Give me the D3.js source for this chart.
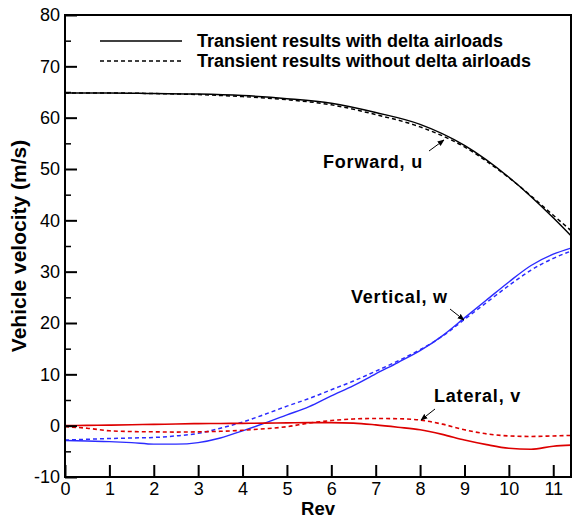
<!DOCTYPE html>
<html>
<head>
<meta charset="utf-8">
<script src="https://cdn.jsdelivr.net/npm/d3@7"></script>
<style>
  html, body { margin: 0; padding: 0; background: #fff; }
  svg { display: block; font-family: Arial, "Liberation Sans", sans-serif; }
</style>
</head>
<body>
<svg id="chart" width="573" height="518"></svg>
<script>
// Rev positions (x) shared by each sampled series
const forwardRev = [0, 1, 2, 3, 4, 5, 6, 7, 8, 9, 10, 11, 11.4];
const forwardWith = [64.8, 64.8, 64.7, 64.6, 64.3, 63.7, 62.8, 61.0, 58.7, 54.6, 48.4, 40.5, 37.0];
const forwardWithout = [64.8, 64.8, 64.7, 64.5, 64.1, 63.5, 62.5, 60.6, 58.2, 54.3, 48.3, 41.0, 38.0];

const verticalRev = [0, 0.5, 1, 1.5, 2, 2.5, 3, 3.5, 4, 4.5, 5, 5.5, 6, 6.5, 7, 7.5, 8, 8.5, 9, 9.5, 10, 10.5, 11, 11.4];
const verticalWith = [-2.9, -3.0, -3.1, -3.3, -3.6, -3.6, -3.3, -2.4, -1.0, 0.5, 2.1, 3.7, 5.8, 7.8, 10.1, 12.3, 14.6, 17.5, 21.0, 24.5, 28.0, 31.2, 33.4, 34.6];
const verticalWithout = [-2.8, -2.65, -2.5, -2.4, -2.3, -2.0, -1.5, -0.5, 0.7, 2.2, 3.8, 5.3, 7.0, 8.7, 10.6, 12.6, 14.8, 17.4, 20.7, 24.0, 27.3, 30.3, 32.6, 34.0];

const lateralRev = [0, 0.5, 1, 1.5, 2, 2.5, 3, 3.5, 4, 4.5, 5, 5.5, 6, 6.5, 7, 7.5, 8, 8.5, 9, 9.5, 10, 10.5, 11, 11.4];
const lateralWith = [0.0, 0.05, 0.1, 0.18, 0.25, 0.33, 0.4, 0.43, 0.45, 0.5, 0.55, 0.6, 0.6, 0.5, 0.15, -0.3, -0.8, -1.7, -2.8, -3.7, -4.4, -4.6, -4.0, -3.8];
const lateralWithout = [-0.2, -0.5, -1.0, -1.15, -1.2, -1.25, -1.2, -1.1, -0.9, -0.6, -0.2, 0.5, 1.0, 1.3, 1.4, 1.35, 1.1, 0.3, -0.8, -1.6, -2.0, -2.1, -2.0, -1.9];

const xTicks = [0, 1, 2, 3, 4, 5, 6, 7, 8, 9, 10, 11];
const yTicks = [-10, 0, 10, 20, 30, 40, 50, 60, 70, 80];
const yMinorTicks = [-5, 5, 15, 25, 35, 45, 55, 65, 75];

const legendLabels = ["Transient results with delta airloads", "Transient results without delta airloads"];

const svg = d3.select("#chart");
const plotLeft = 65, plotRight = 571, plotTop = 15, plotBottom = 477;
const fontFamily = "Arial, 'Liberation Sans', sans-serif";

const x = d3.scaleLinear().domain([0, 11.4]).range([plotLeft, plotRight]);
const y = d3.scaleLinear().domain([-10, 80]).range([plotBottom, plotTop]);

const zip = (xs, ys) => xs.map((v, i) => [v, ys[i]]);
const line = d3.line().x(d => x(d[0])).y(d => y(d[1])).curve(d3.curveMonotoneX);

svg.append("clipPath").attr("id", "plot-clip")
  .append("rect").attr("x", plotLeft).attr("y", plotTop)
  .attr("width", plotRight - plotLeft).attr("height", plotBottom - plotTop);

const series = [
  { rev: forwardRev, vals: forwardWith, color: "#000000", dash: null, w: 1.5 },
  { rev: forwardRev, vals: forwardWithout, color: "#000000", dash: "4,3", w: 1.5 },
  { rev: verticalRev, vals: verticalWith, color: "#2b2bff", dash: null, w: 1.4 },
  { rev: verticalRev, vals: verticalWithout, color: "#2b2bff", dash: "4,3", w: 1.5 },
  { rev: lateralRev, vals: lateralWith, color: "#dd0000", dash: null, w: 1.6 },
  { rev: lateralRev, vals: lateralWithout, color: "#dd0000", dash: "4,3", w: 1.6 }
];

const g = svg.append("g").attr("clip-path", "url(#plot-clip)");
series.forEach(s => {
  g.append("path")
    .attr("d", line(zip(s.rev, s.vals)))
    .attr("fill", "none")
    .attr("stroke", s.color)
    .attr("stroke-width", s.w)
    .attr("stroke-dasharray", s.dash);
});

// Frame
svg.append("rect")
  .attr("x", plotLeft).attr("y", plotTop)
  .attr("width", plotRight - plotLeft).attr("height", plotBottom - plotTop)
  .attr("fill", "none").attr("stroke", "#000").attr("stroke-width", 2);

const plainNumber = d => String(d);

// Bottom axis, ticks pointing into the plot
const xAxis = d3.axisBottom(x).tickValues(xTicks).tickFormat(plainNumber).tickSizeInner(-12).tickSizeOuter(0).tickPadding(5);
const xg = svg.append("g").attr("transform", `translate(0,${plotBottom})`).call(xAxis);
xg.select(".domain").remove();
xg.selectAll(".tick line").attr("stroke-width", 2);
xg.selectAll(".tick text").attr("font-size", 18).attr("fill", "#000").attr("font-family", fontFamily);

// Left axis, major and minor ticks pointing into the plot
const yAxis = d3.axisLeft(y).tickValues(yTicks).tickFormat(plainNumber).tickSizeInner(-12).tickSizeOuter(0).tickPadding(5);
const yg = svg.append("g").attr("transform", `translate(${plotLeft},0)`).call(yAxis);
yg.select(".domain").remove();
yg.selectAll(".tick line").attr("stroke-width", 2);
yg.selectAll(".tick text").attr("font-size", 18).attr("fill", "#000").attr("font-family", fontFamily);

const yMinor = d3.axisLeft(y).tickValues(yMinorTicks).tickFormat("").tickSizeInner(-6).tickSizeOuter(0);
const ymg = svg.append("g").attr("transform", `translate(${plotLeft},0)`).call(yMinor);
ymg.select(".domain").remove();
ymg.selectAll(".tick line").attr("stroke-width", 1.5);

// Axis titles
svg.append("text")
  .attr("x", (plotLeft + plotRight) / 2).attr("y", 515)
  .attr("text-anchor", "middle").attr("font-weight", "bold").attr("font-size", 18.5)
  .text("Rev");

svg.append("text")
  .attr("transform", `translate(26,${(plotTop + plotBottom) / 2}) rotate(-90)`)
  .attr("text-anchor", "middle").attr("font-weight", "bold").attr("font-size", 21)
  .text("Vehicle velocity (m/s)");

// Legend
const legend = svg.append("g");
legendLabels.forEach((label, i) => {
  const ly = 41 + i * 20;
  legend.append("line")
    .attr("x1", 100).attr("x2", 182).attr("y1", ly).attr("y2", ly)
    .attr("stroke", "#000").attr("stroke-width", 1.5)
    .attr("stroke-dasharray", i === 0 ? null : "4,3");
  legend.append("text")
    .attr("x", 197).attr("y", ly + 6)
    .attr("font-weight", "bold").attr("font-size", 18)
    .text(label);
});

// Curve annotations with arrows
svg.append("defs").append("marker")
  .attr("id", "arrow").attr("viewBox", "0 0 10 10").attr("refX", 9).attr("refY", 5)
  .attr("markerWidth", 7).attr("markerHeight", 7).attr("orient", "auto")
  .append("path").attr("d", "M0,1 L10,5 L0,9 Z").attr("fill", "#000");

const notes = [
  { text: "Forward, u", tx: 323, ty: 168, from: [429, 151], to: [444, 140] },
  { text: "Vertical, w", tx: 351, ty: 303, from: [450, 309], to: [464, 320] },
  { text: "Lateral, v", tx: 434, ty: 402, from: [435, 409], to: [421, 420] }
];
notes.forEach(n => {
  svg.append("text").attr("x", n.tx).attr("y", n.ty)
    .attr("font-weight", "bold").attr("font-size", 18).attr("letter-spacing", 0.8).text(n.text);
  svg.append("line")
    .attr("x1", n.from[0]).attr("y1", n.from[1]).attr("x2", n.to[0]).attr("y2", n.to[1])
    .attr("stroke", "#000").attr("stroke-width", 1).attr("marker-end", "url(#arrow)");
});
</script>
</body>
</html>
